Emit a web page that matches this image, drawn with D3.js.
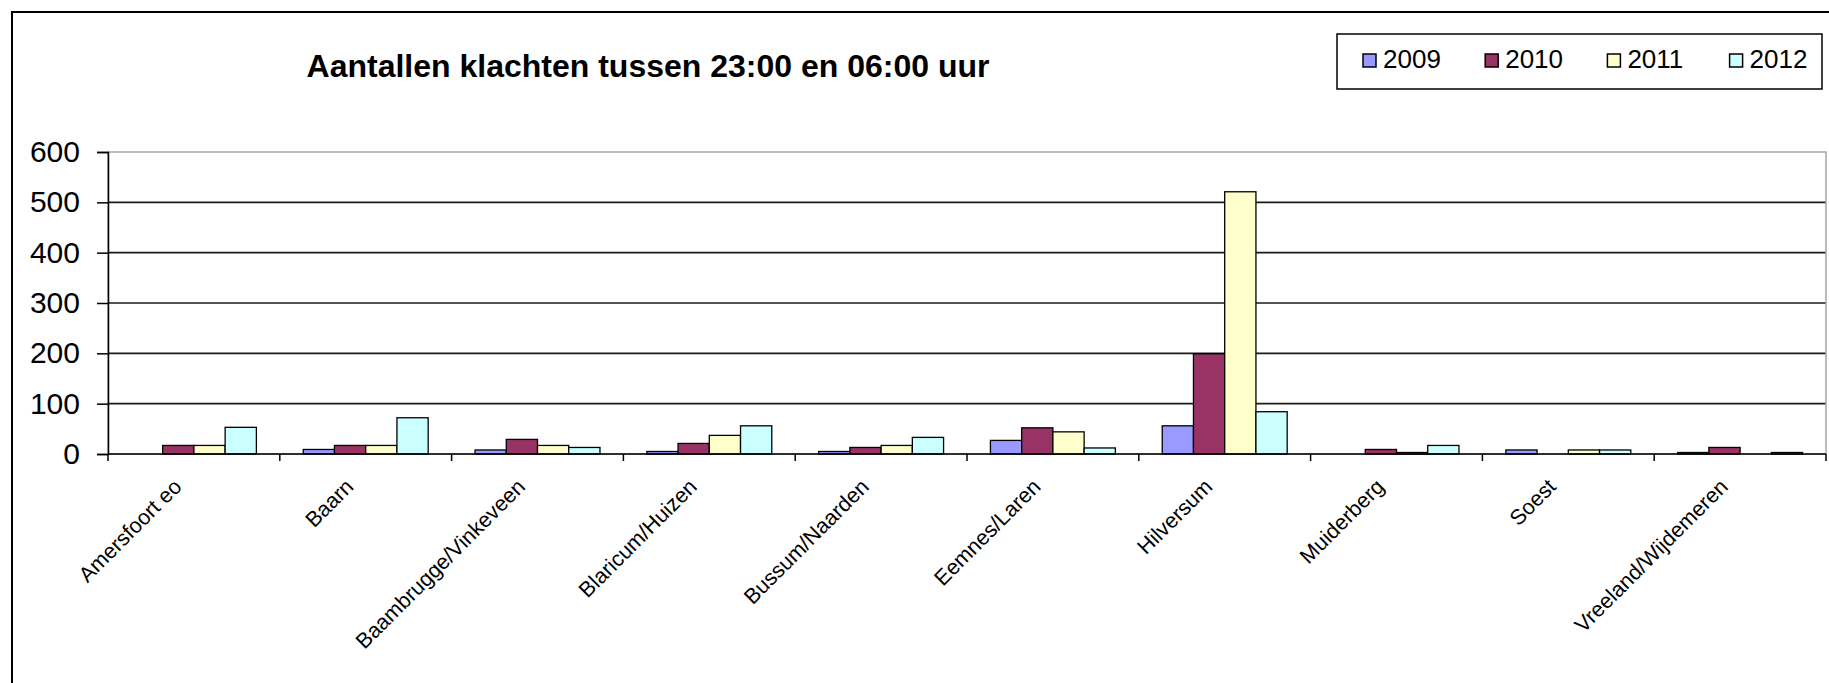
<!DOCTYPE html>
<html>
<head>
<meta charset="utf-8">
<script src="https://cdn.jsdelivr.net/npm/d3@7"></script>
<style>
  body { margin: 0; background: #fff; }
  text { font-family: "Liberation Sans", Arial, sans-serif; fill: #000; }
</style>
</head>
<body>
<div id="chart"></div>
<script>
// data
var places = ["Amersfoort eo", "Baarn", "Baambrugge/Vinkeveen", "Blaricum/Huizen", "Bussum/Naarden",
    "Eemnes/Laren", "Hilversum", "Muiderberg", "Soest", "Vreeland/Wijdemeren"];
var years = ["2009", "2010", "2011", "2012"];
var v2009 = [0, 9, 8, 5, 5, 27, 56, 0, 8, 3];
var v2010 = [17, 17, 29, 21, 13, 52, 199, 9, 0, 13];
var v2011 = [17, 17, 17, 37, 17, 44, 521, 3, 8, 0];
var v2012 = [53, 72, 13, 56, 33, 12, 84, 17, 8, 3];
var yTicks = [0, 100, 200, 300, 400, 500, 600];
var colors = ["#9999FF", "#993366", "#FFFFCC", "#CCFFFF"];

var series = [v2009, v2010, v2011, v2012];
var rows = places.map(function (p, i) {
    return { place: p, values: years.map(function (y, j) { return { year: y, value: series[j][i] }; }) };
});

var W = 1829, H = 683;
var margin = { top: 152, right: 3, bottom: 229, left: 108 },
    width = W - margin.left - margin.right,
    height = H - margin.top - margin.bottom;

var root = d3.select("#chart").append("svg")
    .attr("width", W).attr("height", H);

// outer chart border (runs off the right / bottom edge)
root.append("rect")
    .attr("x", 12).attr("y", 12)
    .attr("width", W + 10).attr("height", H + 10)
    .attr("fill", "none").attr("stroke", "#000").attr("stroke-width", 2);

root.append("text")
    .attr("x", 648).attr("y", 77)
    .attr("text-anchor", "middle")
    .attr("font-size", 32).attr("font-weight", "bold")
    .text("Aantallen klachten tussen 23:00 en 06:00 uur");

var svg = root.append("g")
    .attr("transform", `translate(${margin.left},${margin.top})`);

var x0 = d3.scaleBand().domain(places).range([0, width]).padding(0);
var cw = x0.bandwidth();
var x1 = d3.scaleBand().domain(years)
    .range([cw * 0.75 / 5.5, cw - cw * 0.75 / 5.5]).padding(0);
var y = d3.scaleLinear().domain([0, 600]).range([height, 0]);
var z = d3.scaleOrdinal().domain(years).range(colors);

// gridlines
svg.append("g")
    .selectAll("line")
    .data(yTicks.filter(function (d) { return d > 0 && d < 600; }))
    .enter().append("line")
    .attr("x1", 0).attr("x2", width)
    .attr("y1", function (d) { return y(d); })
    .attr("y2", function (d) { return y(d); })
    .attr("stroke", "#1a1a1a").attr("stroke-width", 1.6);

// plot area border
svg.append("rect")
    .attr("x", 0).attr("y", 0)
    .attr("width", width).attr("height", height)
    .attr("fill", "none").attr("stroke", "#a6a6a6").attr("stroke-width", 1.5);

// bars
svg.append("g")
    .selectAll("g")
    .data(rows)
    .enter().append("g")
    .attr("transform", function (d) { return `translate(${x0(d.place)},0)`; })
    .selectAll("rect")
    .data(function (d) { return d.values.filter(function (e) { return e.value > 0; }); })
    .enter().append("rect")
    .attr("x", function (d) { return x1(d.year); })
    .attr("y", function (d) { return y(d.value); })
    .attr("width", x1.bandwidth())
    .attr("height", function (d) { return height - y(d.value); })
    .attr("fill", function (d) { return z(d.year); })
    .attr("stroke", "#000").attr("stroke-width", 1.3);

// y axis
var yAxis = svg.append("g")
    .call(d3.axisLeft(y).tickValues(yTicks).tickSize(11).tickPadding(17));
yAxis.select(".domain").attr("stroke", "#000").attr("stroke-width", 1.5);
yAxis.selectAll(".tick line").attr("stroke", "#000").attr("stroke-width", 1.5);
yAxis.selectAll(".tick text")
    .attr("font-size", 30)
    .attr("font-family", "Liberation Sans, Arial, sans-serif")
    .attr("fill", "#000");

// x axis: ticks at category boundaries
var xAxisG = svg.append("g").attr("transform", `translate(0,${height})`);
xAxisG.append("line")
    .attr("x1", 0).attr("x2", width)
    .attr("stroke", "#000").attr("stroke-width", 1.5);
xAxisG.selectAll(".bt")
    .data(places.concat(["end"]))
    .enter().append("line")
    .attr("class", "bt")
    .attr("x1", function (d, i) { return i * cw; })
    .attr("x2", function (d, i) { return i * cw; })
    .attr("y1", 0).attr("y2", 7)
    .attr("stroke", "#000").attr("stroke-width", 1.5);

xAxisG.selectAll(".lbl")
    .data(places)
    .enter().append("text")
    .attr("class", "lbl")
    .attr("font-size", 21.5)
    .attr("text-anchor", "end")
    .attr("transform", function (d) {
        return `translate(${x0(d) + cw / 2 - 11},34) rotate(-45)`;
    })
    .text(function (d) { return d; });

// legend
var lg = root.append("g");
lg.append("rect")
    .attr("x", 1337).attr("y", 34)
    .attr("width", 485).attr("height", 55)
    .attr("fill", "#fff").attr("stroke", "#000").attr("stroke-width", 1.5);

var item = lg.selectAll(".item")
    .data(years)
    .enter().append("g")
    .attr("class", "item")
    .attr("transform", function (d, i) { return `translate(${1363 + i * 122.2},0)`; });
item.append("rect")
    .attr("x", 0).attr("y", 54)
    .attr("width", 13).attr("height", 13)
    .attr("fill", z).attr("stroke", "#000").attr("stroke-width", 1.5);
item.append("text")
    .attr("x", 20).attr("y", 68)
    .attr("font-size", 26)
    .text(function (d) { return d; });
</script>
</body>
</html>
